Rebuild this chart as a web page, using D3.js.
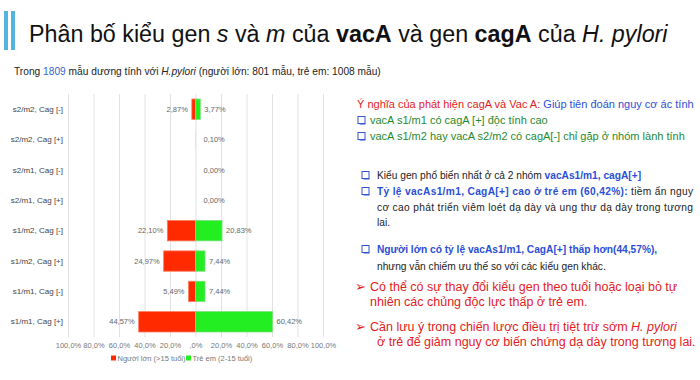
<!DOCTYPE html>
<html>
<head>
<meta charset="utf-8">
<script src="https://cdn.jsdelivr.net/npm/d3@7"></script>
<style>
  html, body { margin: 0; padding: 0; background: #fff; }
  svg { display: block; font-family: "Liberation Sans", Arial, sans-serif; }
</style>
</head>
<body>
<svg id="chart" width="700" height="380"></svg>
<script>
// ---- data ----
const categories = [
  "s2/m2, Cag [-]", "s2/m2, Cag [+]", "s2/m1, Cag [-]", "s2/m1, Cag [+]",
  "s1/m2, Cag [-]", "s1/m2, Cag [+]", "s1/m1, Cag [-]", "s1/m1, Cag [+]"
];
const adults   = [2.87, null, null, null, 22.10, 24.97, 5.49, 44.57];
const children = [3.77, 0.10, 0.00, 0.00, 20.83, 7.44, 7.44, 60.42];
const seriesNames = ["Người lớn (>15 tuổi)", "Trẻ em (2-15 tuổi)"];
const tickValues = [-100, -80, -60, -40, -20, 0, 20, 40, 60, 80, 100];

const svg = d3.select("#chart");
const RED = "#ff2a00", GREEN = "#22ee22";

// ---- title ----
svg.append("rect").attr("x", 4).attr("y", 11).attr("width", 4).attr("height", 39).attr("fill", "#55b4dc");
svg.append("rect").attr("x", 11).attr("y", 11).attr("width", 4).attr("height", 39).attr("fill", "#55b4dc");
const title = svg.append("text").attr("x", 29).attr("y", 42).attr("font-size", 23.3).attr("fill", "#111");
title.append("tspan").text("Phân bố kiểu gen ");
title.append("tspan").attr("font-style", "italic").text("s");
title.append("tspan").text(" và ");
title.append("tspan").attr("font-style", "italic").text("m");
title.append("tspan").text(" của ");
title.append("tspan").attr("font-weight", "bold").text("vacA");
title.append("tspan").text(" và gen ");
title.append("tspan").attr("font-weight", "bold").text("cagA");
title.append("tspan").text(" của ");
title.append("tspan").attr("font-style", "italic").text("H. pylori");

const sub = svg.append("text").attr("x", 14).attr("y", 75).attr("font-size", 10.2).attr("fill", "#222");
sub.append("tspan").text("Trong ");
sub.append("tspan").attr("fill", "#3a5fcd").text("1809");
sub.append("tspan").text(" mẫu dương tính với ");
sub.append("tspan").attr("font-style", "italic").text("H.pylori");
sub.append("tspan").text("  (người lớn: 801 mẫu, trẻ em: 1008 mẫu)");

// ---- chart ----
const x = d3.scaleLinear().domain([-100, 100]).range([68, 323]);
const y = d3.scaleBand().domain(categories).range([94, 337]).paddingInner(0.33).paddingOuter(0.165);
const yTop = 94, yBot = 337;

// gridlines
svg.append("g").attr("transform", `translate(0,${yBot})`)
  .call(d3.axisBottom(x).tickValues(tickValues).tickSize(-(yBot - yTop)).tickFormat(""))
  .call(g => g.select(".domain").remove())
  .call(g => g.selectAll("line").attr("stroke", "#e2e2e2"));

// x-axis labels
const fmtTick = v => (v === 0 ? ",0%" : Math.abs(v).toFixed(1).replace(".", ",") + "%");
svg.append("g").attr("transform", `translate(0,${yBot})`)
  .call(d3.axisBottom(x).tickValues(tickValues).tickSize(0).tickPadding(6).tickFormat(fmtTick))
  .call(g => g.select(".domain").remove())
  .call(g => g.selectAll("text").attr("font-size", 7.5).attr("fill", "#777").attr("font-family", "Liberation Sans, Arial, sans-serif"));

// y-axis labels
svg.append("g").attr("transform", `translate(63,0)`)
  .call(d3.axisLeft(y).tickSize(0).tickPadding(0))
  .call(g => g.select(".domain").remove())
  .call(g => g.selectAll("text").attr("font-size", 8).attr("fill", "#444").attr("font-family", "Liberation Sans, Arial, sans-serif"));

const fmtVal = v => v.toFixed(2).replace(".", ",") + "%";

const adultData = categories.map((c, i) => ({ c, v: adults[i] }));
const childData = categories.map((c, i) => ({ c, v: children[i] }));

// adult bars (left)
svg.append("g").selectAll("rect").data(adultData.filter(d => d.v))
  .join("rect")
  .attr("x", d => x(-d.v)).attr("y", d => y(d.c))
  .attr("width", d => x(0) - x(-d.v)).attr("height", y.bandwidth())
  .attr("fill", RED)
  .attr("stroke", d => (x(0) - x(-d.v) > 1 ? "#ff7a5a" : "none")).attr("stroke-width", 0.8);

// children bars (right)
svg.append("g").selectAll("rect").data(childData.filter(d => d.v))
  .join("rect")
  .attr("x", x(0)).attr("y", d => y(d.c))
  .attr("width", d => x(d.v) - x(0)).attr("height", y.bandwidth())
  .attr("fill", GREEN)
  .attr("stroke", d => (x(d.v) - x(0) > 1 ? "#7be07b" : "none")).attr("stroke-width", 0.8);

// value labels
svg.append("g").selectAll("text").data(adultData.filter(d => d.v != null))
  .join("text")
  .attr("x", d => x(-d.v) - 4).attr("y", d => y(d.c) + y.bandwidth() / 2)
  .attr("dy", "0.35em").attr("text-anchor", "end")
  .attr("font-size", 7.5).attr("fill", "#666").text(d => fmtVal(d.v));

svg.append("g").selectAll("text").data(childData.filter(d => d.v != null))
  .join("text")
  .attr("x", d => Math.max(x(d.v) + 4, x(0) + 8)).attr("y", d => y(d.c) + y.bandwidth() / 2)
  .attr("dy", "0.35em").attr("text-anchor", "start")
  .attr("font-size", 7.5).attr("fill", "#666").text(d => fmtVal(d.v));

// legend
const legend = svg.append("g").attr("transform", "translate(0,358)");
[[111, RED, seriesNames[0]], [186, GREEN, seriesNames[1]]].forEach(([lx, col, name]) => {
  legend.append("rect").attr("x", lx).attr("y", -2.5).attr("width", 5).attr("height", 5).attr("fill", col);
  legend.append("text").attr("x", lx + 6.5).attr("y", 0).attr("dy", "0.35em")
    .attr("font-size", 7.5).attr("fill", "#777").text(name);
});

// ---- right text panel ----
const BLUE = "#2b4fd6", DRED = "#e31b23", DGREEN = "#1f8a2e";
function line(xp, yp, size, parts, opts = {}) {
  const t = svg.append("text").attr("x", xp).attr("y", yp).attr("font-size", size);
  if (opts.len) t.attr("textLength", opts.len).attr("lengthAdjust", "spacing");
  parts.forEach(p => {
    const s = t.append("tspan").attr("fill", p.c || "#222").text(p.t);
    if (p.b) s.attr("font-weight", "bold");
    if (p.i) s.attr("font-style", "italic");
  });
  return t;
}
function box(xp, yc) {
  svg.append("rect").attr("x", xp).attr("y", yc - 3.5).attr("width", 7).attr("height", 7)
    .attr("fill", "#fff").attr("stroke", "#3355cc").attr("stroke-width", 1);
  svg.append("line").attr("x1", xp + 1.5).attr("x2", xp + 7.5).attr("y1", yc + 4).attr("y2", yc + 4)
    .attr("stroke", "#3355cc").attr("stroke-width", 1);
}

line(357, 108, 11, [{ t: "Ý nghĩa của phát hiện cagA và Vac A: ", c: DRED }, { t: "Giúp tiên đoán nguy cơ ác tính", c: BLUE }]);
box(358, 120); line(370, 124, 11, [{ t: "vacA s1/m1 có cagA [+] độc tính cao", c: DGREEN }]);
box(358, 136); line(370, 140, 11, [{ t: "vacA s1/m2 hay vacA s2/m2 có cagA[-] chỉ gặp ở nhóm lành tính", c: DGREEN }]);

box(362, 175); line(377, 179, 10.2, [{ t: "Kiểu gen phổ biến nhất ở cả 2 nhóm " }, { t: "vacAs1/m1, cagA[+]", c: BLUE, b: true }]);
box(362, 191); line(377, 195, 10.2, [{ t: "Tỷ lệ vacAs1/m1, CagA[+] cao ở trẻ em (60,42%):", c: BLUE, b: true }, { t: " tiềm ẩn nguy" }], { len: 316 });
line(377, 211, 10.2, [{ t: "cơ cao phát triển viêm loét dạ dày và ung thư dạ dày trong tương" }], { len: 316 });
line(377, 226, 10.2, [{ t: "lai." }]);
box(362, 249); line(377, 253, 10.2, [{ t: "Người lớn có tỷ lệ vacAs1/m1, CagA[+] thấp hơn(44,57%),", c: BLUE, b: true }]);
line(377, 270, 10.2, [{ t: "nhưng vẫn chiếm ưu thế so với các kiểu gen khác." }]);

line(355, 291, 12.5, [{ t: "➢", c: DRED }]);
line(370, 291, 12.5, [{ t: "Có thể có sự thay đổi kiểu gen theo tuổi hoặc loại bỏ tự", c: DRED }]);
line(370, 306, 12.5, [{ t: "nhiên các chủng độc lực thấp ở trẻ em.", c: DRED }]);
line(355, 331, 12.5, [{ t: "➢", c: DRED }]);
line(370, 331, 12.5, [{ t: "Cần lưu ý trong chiến lược điều trị tiệt trừ sớm ", c: DRED }, { t: "H. pylori", c: DRED, i: true }]);
line(377, 346, 12.5, [{ t: "ở trẻ để giảm nguy cơ biến chứng dạ dày trong tương lai.", c: DRED }]);
</script>
</body>
</html>
